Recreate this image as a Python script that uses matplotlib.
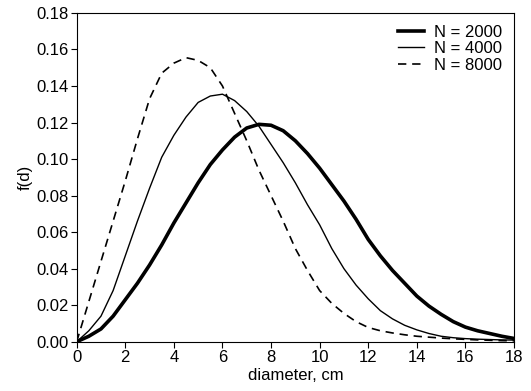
import matplotlib

matplotlib.use("Agg")
import matplotlib.pyplot as plt

# f(d) at 0.5 cm steps
diameter = [0, 0.5, 1, 1.5, 2, 2.5, 3, 3.5, 4, 4.5, 5, 5.5, 6, 6.5, 7, 7.5, 8, 8.5, 9,
            9.5, 10, 10.5, 11, 11.5, 12, 12.5, 13, 13.5, 14, 14.5, 15, 15.5, 16,
            16.5, 17, 17.5, 18]
f_2000 = [0.0, 0.003, 0.007, 0.014, 0.023, 0.032, 0.042, 0.053, 0.065, 0.076,
          0.087, 0.097, 0.105, 0.112, 0.117, 0.119, 0.1185, 0.1155, 0.110, 0.103,
          0.095, 0.086, 0.077, 0.067, 0.056, 0.047, 0.039, 0.032, 0.025, 0.0195,
          0.015, 0.011, 0.008, 0.006, 0.0045, 0.003, 0.0018]
f_4000 = [0.0, 0.006, 0.014, 0.028, 0.047, 0.066, 0.084, 0.101, 0.113, 0.123,
          0.131, 0.1345, 0.1355, 0.132, 0.126, 0.118, 0.108, 0.098, 0.087, 0.075,
          0.064, 0.051, 0.040, 0.031, 0.0235, 0.017, 0.0125, 0.009, 0.0065, 0.0045,
          0.003, 0.0022, 0.0017, 0.0014, 0.0012, 0.001, 0.0009]
f_8000 = [0.0, 0.022, 0.044, 0.066, 0.088, 0.111, 0.133, 0.147, 0.1525, 0.1555,
          0.154, 0.150, 0.140, 0.125, 0.110, 0.094, 0.080, 0.066, 0.051, 0.039,
          0.028, 0.021, 0.0155, 0.011, 0.0078, 0.006, 0.0048, 0.0038, 0.003, 0.0025,
          0.002, 0.0016, 0.0013, 0.001, 0.0008, 0.0006, 0.0005]

labels = ["N = 2000", "N = 4000", "N = 8000"]
xticks = list(range(0, 19, 2))
yticks = [0.00, 0.02, 0.04, 0.06, 0.08, 0.10, 0.12, 0.14, 0.16, 0.18]

plt.rcParams.update({
    "font.family": "Liberation Sans",
    "font.size": 12,
})

fig = plt.figure(figsize=(5.31, 3.91), dpi=100)
ax = fig.add_axes([0.1444, 0.126, 0.8236, 0.841])

ax.plot(diameter, f_2000, color="black", lw=2.6, label=labels[0])
ax.plot(diameter, f_4000, color="black", lw=1.0, label=labels[1])
ax.plot(diameter, f_8000, color="black", lw=1.2, ls=(0, (5, 3.5)), label=labels[2])

ax.set_xlim(0, 18)
ax.set_ylim(0, 0.18)
ax.set_xticks(xticks)
ax.set_yticks(yticks)
ax.set_yticklabels([f"{v:.2f}" for v in yticks])
ax.tick_params(direction="out", length=4, width=0.8, pad=2)
for s in ax.spines.values():
    s.set_linewidth(0.8)

ax.set_xlabel("diameter, cm", labelpad=2)
ax.set_ylabel("f(d)", labelpad=2)

ax.legend(loc="upper right", frameon=False, handlelength=1.6,
          handletextpad=0.6, labelspacing=0.1, borderaxespad=0.3)

fig.savefig("out.png", dpi=100)
